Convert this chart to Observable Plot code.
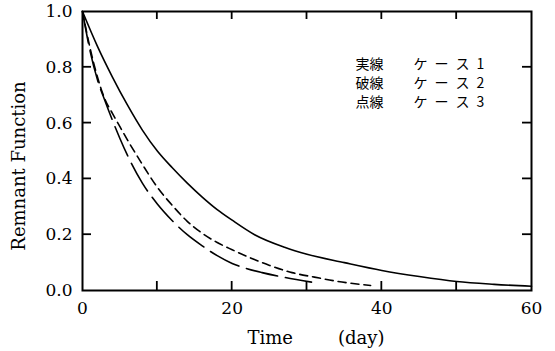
<!DOCTYPE html>
<html><head><meta charset="utf-8">
<script src="https://cdn.jsdelivr.net/npm/d3@7"></script>
<script src="https://cdn.jsdelivr.net/npm/@observablehq/plot@0.6"></script>
<style>body{margin:0;background:#fff}</style>
</head><body><div id="chart"></div>
<script>
// Case 1 (solid)
const case1Days   = [0, 2, 4, 6, 8, 10, 12, 14, 16, 18, 20, 23, 27, 30, 35, 40, 45, 50, 55, 60];
const case1Values = [1, 0.875, 0.765, 0.665, 0.575, 0.5, 0.44, 0.385, 0.335, 0.29, 0.252, 0.2, 0.155, 0.13, 0.1, 0.072, 0.05, 0.032, 0.022, 0.015];
// Case 2 (short dash)
const case2Days   = [0, 1, 2, 3, 4, 5, 6, 8, 10, 12, 14, 16, 18, 20, 22, 25, 28, 31, 34, 38.5];
const case2Values = [1, 0.87, 0.765, 0.685, 0.635, 0.587, 0.54, 0.452, 0.37, 0.305, 0.248, 0.205, 0.172, 0.146, 0.122, 0.09, 0.064, 0.048, 0.033, 0.018];
// Case 3 (long dash)
const case3Days   = [0, 1, 2, 3, 4, 5, 6, 8, 10, 12, 14, 16, 18, 20, 22, 24, 27, 30.6];
const case3Values = [1, 0.86, 0.755, 0.68, 0.61, 0.545, 0.485, 0.385, 0.31, 0.25, 0.2, 0.16, 0.125, 0.097, 0.078, 0.064, 0.047, 0.03];

const xTickLabels = [0, 20, 40, 60];
const xTickMarks  = [10, 20, 30, 40, 50];
const yTickLabels = [0, 0.2, 0.4, 0.6, 0.8, 1.0];
const yTickMarks  = [0.2, 0.4, 0.6, 0.8];
const legendKinds = ["実線", "破線", "点線"];
const legendCases = ["ケ\u2002ー\u2002ス\u20021", "ケ\u2002ー\u2002ス\u20022", "ケ\u2002ー\u2002ス\u20023"];
const xLabel = "Time\u2003\u2003\u2002(day)";
const yLabel = "Remnant Function";

const toRows = (days, vals) => days.map((d, i) => ({day: d, value: vals[i]}));
const case1 = toRows(case1Days, case1Values);
const case2 = toRows(case2Days, case2Values);
const case3 = toRows(case3Days, case3Values);

const serif = "'DejaVu Serif', serif";
const cjk = "'Noto Sans CJK JP', sans-serif";

const W = 555, H = 351, ML = 82, MR = 24, MT = 11, MB = 61;
const xDomain = [0, 60], yDomain = [0, 1];
const tickLen = 9;

const chart = Plot.plot({
  width: W, height: H,
  marginLeft: ML, marginRight: MR, marginTop: MT, marginBottom: MB,
  style: {fontFamily: serif, background: "#fff", color: "#000"},
  x: {domain: xDomain},
  y: {domain: yDomain},
  marks: [
    Plot.axisY({ticks: yTickLabels, tickSize: 0, tickPadding: 10, tickFormat: d3.format(".1f"), fontSize: 17, label: null}),
    Plot.axisX({ticks: xTickLabels, tickSize: 0, tickPadding: 11, fontSize: 17, label: null}),
    Plot.line(case1, {x: "day", y: "value", stroke: "#000", strokeWidth: 1.6, curve: "monotone-x"}),
    Plot.line(case2, {x: "day", y: "value", stroke: "#000", strokeWidth: 1.6, strokeDasharray: "8,5", curve: "monotone-x"}),
    Plot.line(case3, {x: "day", y: "value", stroke: "#000", strokeWidth: 1.6, strokeDasharray: "32,8", curve: "monotone-x"}),
    Plot.frame({stroke: "#000", strokeWidth: 2}),
    Plot.text([yLabel], {frameAnchor: "left", dx: -63, dy: 15, rotate: -90, textAnchor: "middle", lineAnchor: "middle", fontSize: 18, fontFamily: serif, fill: "#000"}),
    Plot.text([xLabel], {frameAnchor: "bottom", dx: 9, dy: 48, textAnchor: "middle", lineAnchor: "middle", fontSize: 18, fontFamily: serif, fill: "#000"}),
    Plot.text([legendKinds.join("\n")], {frameAnchor: "top-left", dx: 273, dy: 44, lineAnchor: "top", textAnchor: "start", lineHeight: 1.36, fontSize: 14, fontFamily: cjk, fill: "#000"}),
    Plot.text([legendCases.join("\n")], {frameAnchor: "top-left", dx: 331, dy: 44, lineAnchor: "top", textAnchor: "start", lineHeight: 1.36, fontSize: 14, fontFamily: cjk, fill: "#000"})
  ]
});

// inward tick marks on all four sides, positioned with Plot's own scales
const sx = chart.scale("x"), sy = chart.scale("y");
const x0 = sx.apply(xDomain[0]), x1 = sx.apply(xDomain[1]);
const y0 = sy.apply(yDomain[0]), y1 = sy.apply(yDomain[1]);
const g = d3.select(chart).append("g").attr("stroke", "#000").attr("stroke-width", 1.8).attr("fill", "none");
for (const t of xTickMarks) {
  const px = sx.apply(t);
  g.append("path").attr("d", `M${px},${y0}V${y0 - tickLen}`);
  g.append("path").attr("d", `M${px},${y1}V${y1 + tickLen - 1}`);
}
for (const t of yTickMarks) {
  const py = sy.apply(t);
  g.append("path").attr("d", `M${x0},${py}H${x0 + tickLen}`);
  g.append("path").attr("d", `M${x1},${py}H${x1 - tickLen}`);
}
document.getElementById("chart").append(chart);
</script>
</body></html>
